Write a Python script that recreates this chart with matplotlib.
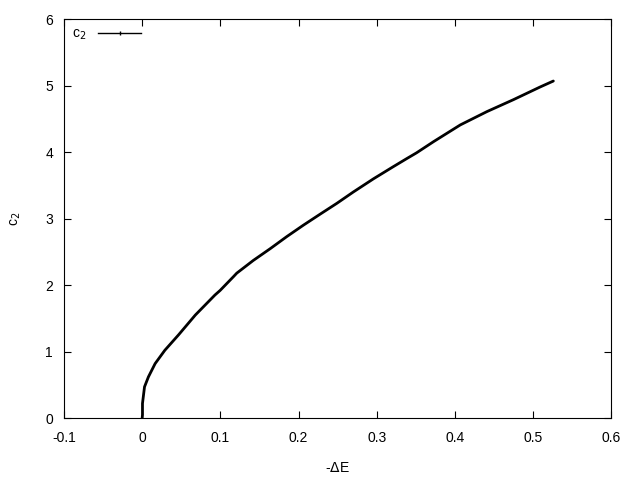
import matplotlib
matplotlib.use('Agg')
import matplotlib.pyplot as plt
from matplotlib.lines import Line2D

# values
neg_dE = [0.0, 0.0004, 0.0004, 0.003, 0.008, 0.0166, 0.029, 0.0464, 0.068,
          0.093, 0.0997, 0.117, 0.121, 0.142, 0.164, 0.185, 0.206, 0.228,
          0.249, 0.270, 0.296, 0.321, 0.338, 0.351, 0.373, 0.407, 0.441,
          0.475, 0.509, 0.526]
c2 = [0.0, 0.05, 0.22, 0.47, 0.62, 0.82, 1.02, 1.25, 1.55,
      1.85, 1.92, 2.13, 2.18, 2.37, 2.55, 2.73, 2.90, 3.07,
      3.23, 3.40, 3.60, 3.78, 3.90, 3.99, 4.16, 4.41, 4.61,
      4.79, 4.98, 5.07]

x_ticks = [-0.1, 0, 0.1, 0.2, 0.3, 0.4, 0.5, 0.6]
x_labels = ['-0.1', '0', '0.1', '0.2', '0.3', '0.4', '0.5', '0.6']
y_ticks = [0, 1, 2, 3, 4, 5, 6]

plt.rcParams['font.family'] = ['Liberation Sans', 'DejaVu Sans']

fig = plt.figure(figsize=(6.4, 4.8), dpi=100)
ax = fig.add_axes([0.1, 0.129, 0.855, 0.831])

ax.plot(neg_dE, c2, color='black', lw=2.0, solid_joinstyle='round',
        solid_capstyle='round')

ax.set_xlim(-0.1, 0.6)
ax.set_ylim(0, 6)
ax.set_xticks(x_ticks)
ax.set_xticklabels(x_labels)
ax.set_yticks(y_ticks)
ax.tick_params(direction='in', length=5, width=0.8, top=True, right=True,
               labelsize=10, pad=8)
ax.tick_params(axis='x', pad=9)
for s in ax.spines.values():
    s.set_linewidth(0.8)

ax.set_xlabel(r'-$\Delta$E', fontsize=10, labelpad=12)
ax.set_ylabel(r'c$_2$', fontsize=10, labelpad=16)

handle = Line2D([], [], color='black', lw=1, marker='|', ms=3)
ax.legend([handle], [r'c$_2$'], loc='upper left', frameon=False,
          fontsize=10, handlelength=3.1, numpoints=1,
          markerfirst=False, borderaxespad=0.35, borderpad=0.2,
          handletextpad=0.9)

fig.savefig('out.png', dpi=100)
